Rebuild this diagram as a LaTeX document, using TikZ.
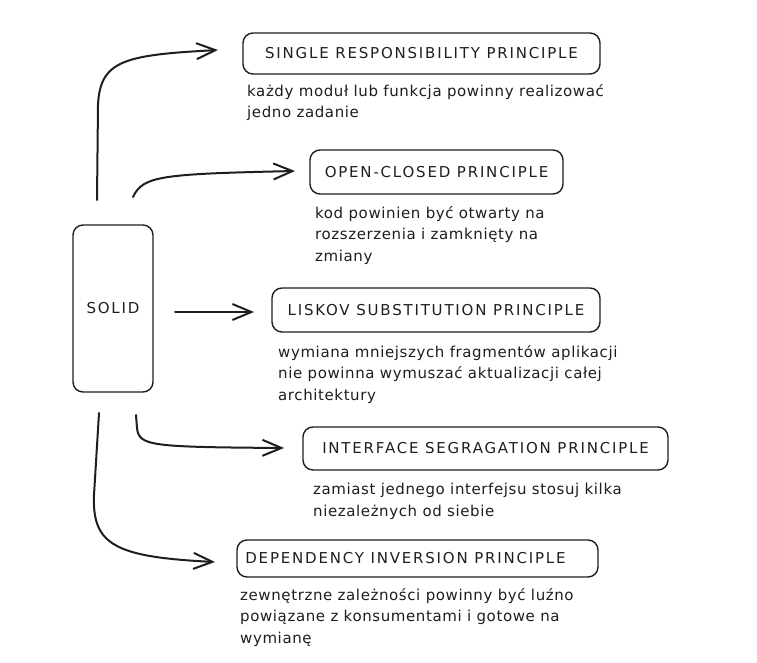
\documentclass[tikz,border=0pt]{standalone}
\usepackage{fontspec}
\setmainfont{DejaVu Sans}
\newfontfamily\titlefont[LetterSpace=12]{DejaVu Sans}
\newfontfamily\descfont[LetterSpace=4]{DejaVu Sans}
\usepackage{xcolor}
\usepackage{tikz}
\usetikzlibrary{arrows.meta}
\definecolor{ink}{HTML}{1E1E1E}

\begin{document}
\begin{tikzpicture}[x=1pt, y=-1pt, >={Straight Barb[length=19pt,width=16pt]}]
\tikzstyle{box}=[draw=ink,line width=1.4pt,rounded corners=10pt,text=ink,inner sep=0pt,font=\titlefont\fontsize{15}{18}\selectfont]
\tikzstyle{desc}=[anchor=north west,align=left,text=ink,inner sep=0pt,font=\descfont\fontsize{15}{21.5}\selectfont]
\tikzstyle{link}=[->,draw=ink,line width=2pt,line cap=round,line join=round]
\useasboundingbox (0,0) rectangle (757,663);
% main box and the five principles
\node[box,minimum width=80pt,minimum height=167pt] (solid) at (113,308.5) {SOLID};
\node[box,minimum width=357pt,minimum height=41pt] (srp) at (421.5,53.5) {SINGLE RESPONSIBILITY PRINCIPLE};
\node[box,minimum width=253pt,minimum height=44pt] (ocp) at (436.5,172) {OPEN-CLOSED PRINCIPLE};
\node[box,minimum width=328pt,minimum height=44pt] (lsp) at (436,310) {LISKOV SUBSTITUTION PRINCIPLE};
\node[box,minimum width=365pt,minimum height=43pt] (isp) at (485.5,448.5) {INTERFACE SEGRAGATION PRINCIPLE};
\node[box,minimum width=361pt,minimum height=37pt] (dip) at (417.5,558.5) {DEPENDENCY INVERSION PRINCIPLE\hspace*{24pt}};
% descriptions
\node[desc] (srptxt) at (247,84) {każdy moduł lub funkcja powinny realizować\\jedno zadanie};
\node[desc] (ocptxt) at (315,206) {kod powinien być otwarty na\\rozszerzenia i zamknięty na\\zmiany};
\node[desc] (lsptxt) at (278,345) {wymiana mniejszych fragmentów aplikacji\\nie powinna wymuszać aktualizacji całej\\architektury};
\node[desc] (isptxt) at (313,483) {zamiast jednego interfejsu stosuj kilka\\niezależnych od siebie};
\node[desc] (diptxt) at (240,588) {zewnętrzne zależności powinny być luźno\\powiązane z konsumentami i gotowe na\\wymianę};
% arrow ends
\coordinate (srpout) at (97,200);
\coordinate (srpin) at (218,50);
\coordinate (ocpout) at (133,197);
\coordinate (ocpin) at (295,171);
\coordinate (lspout) at (175,312);
\coordinate (lspin) at (254,312);
\coordinate (ispout) at (136,415);
\coordinate (ispin) at (284,448);
\coordinate (dipout) at (99,413);
\coordinate (dipin) at (215,562);
\draw[link] (srpout) -- (98,105) .. controls (100,60) and (125,55) .. (srpin);
\draw[link] (ocpout) .. controls (143,176) and (160,174) .. (ocpin);
\draw[link] (lspout) -- (lspin);
\draw[link] (ispout) -- (137,428) .. controls (139,446) and (150,447) .. (ispin);
\draw[link] (dipout) -- (94,495) .. controls (92,545) and (115,557) .. (dipin);
\end{tikzpicture}
\end{document}
